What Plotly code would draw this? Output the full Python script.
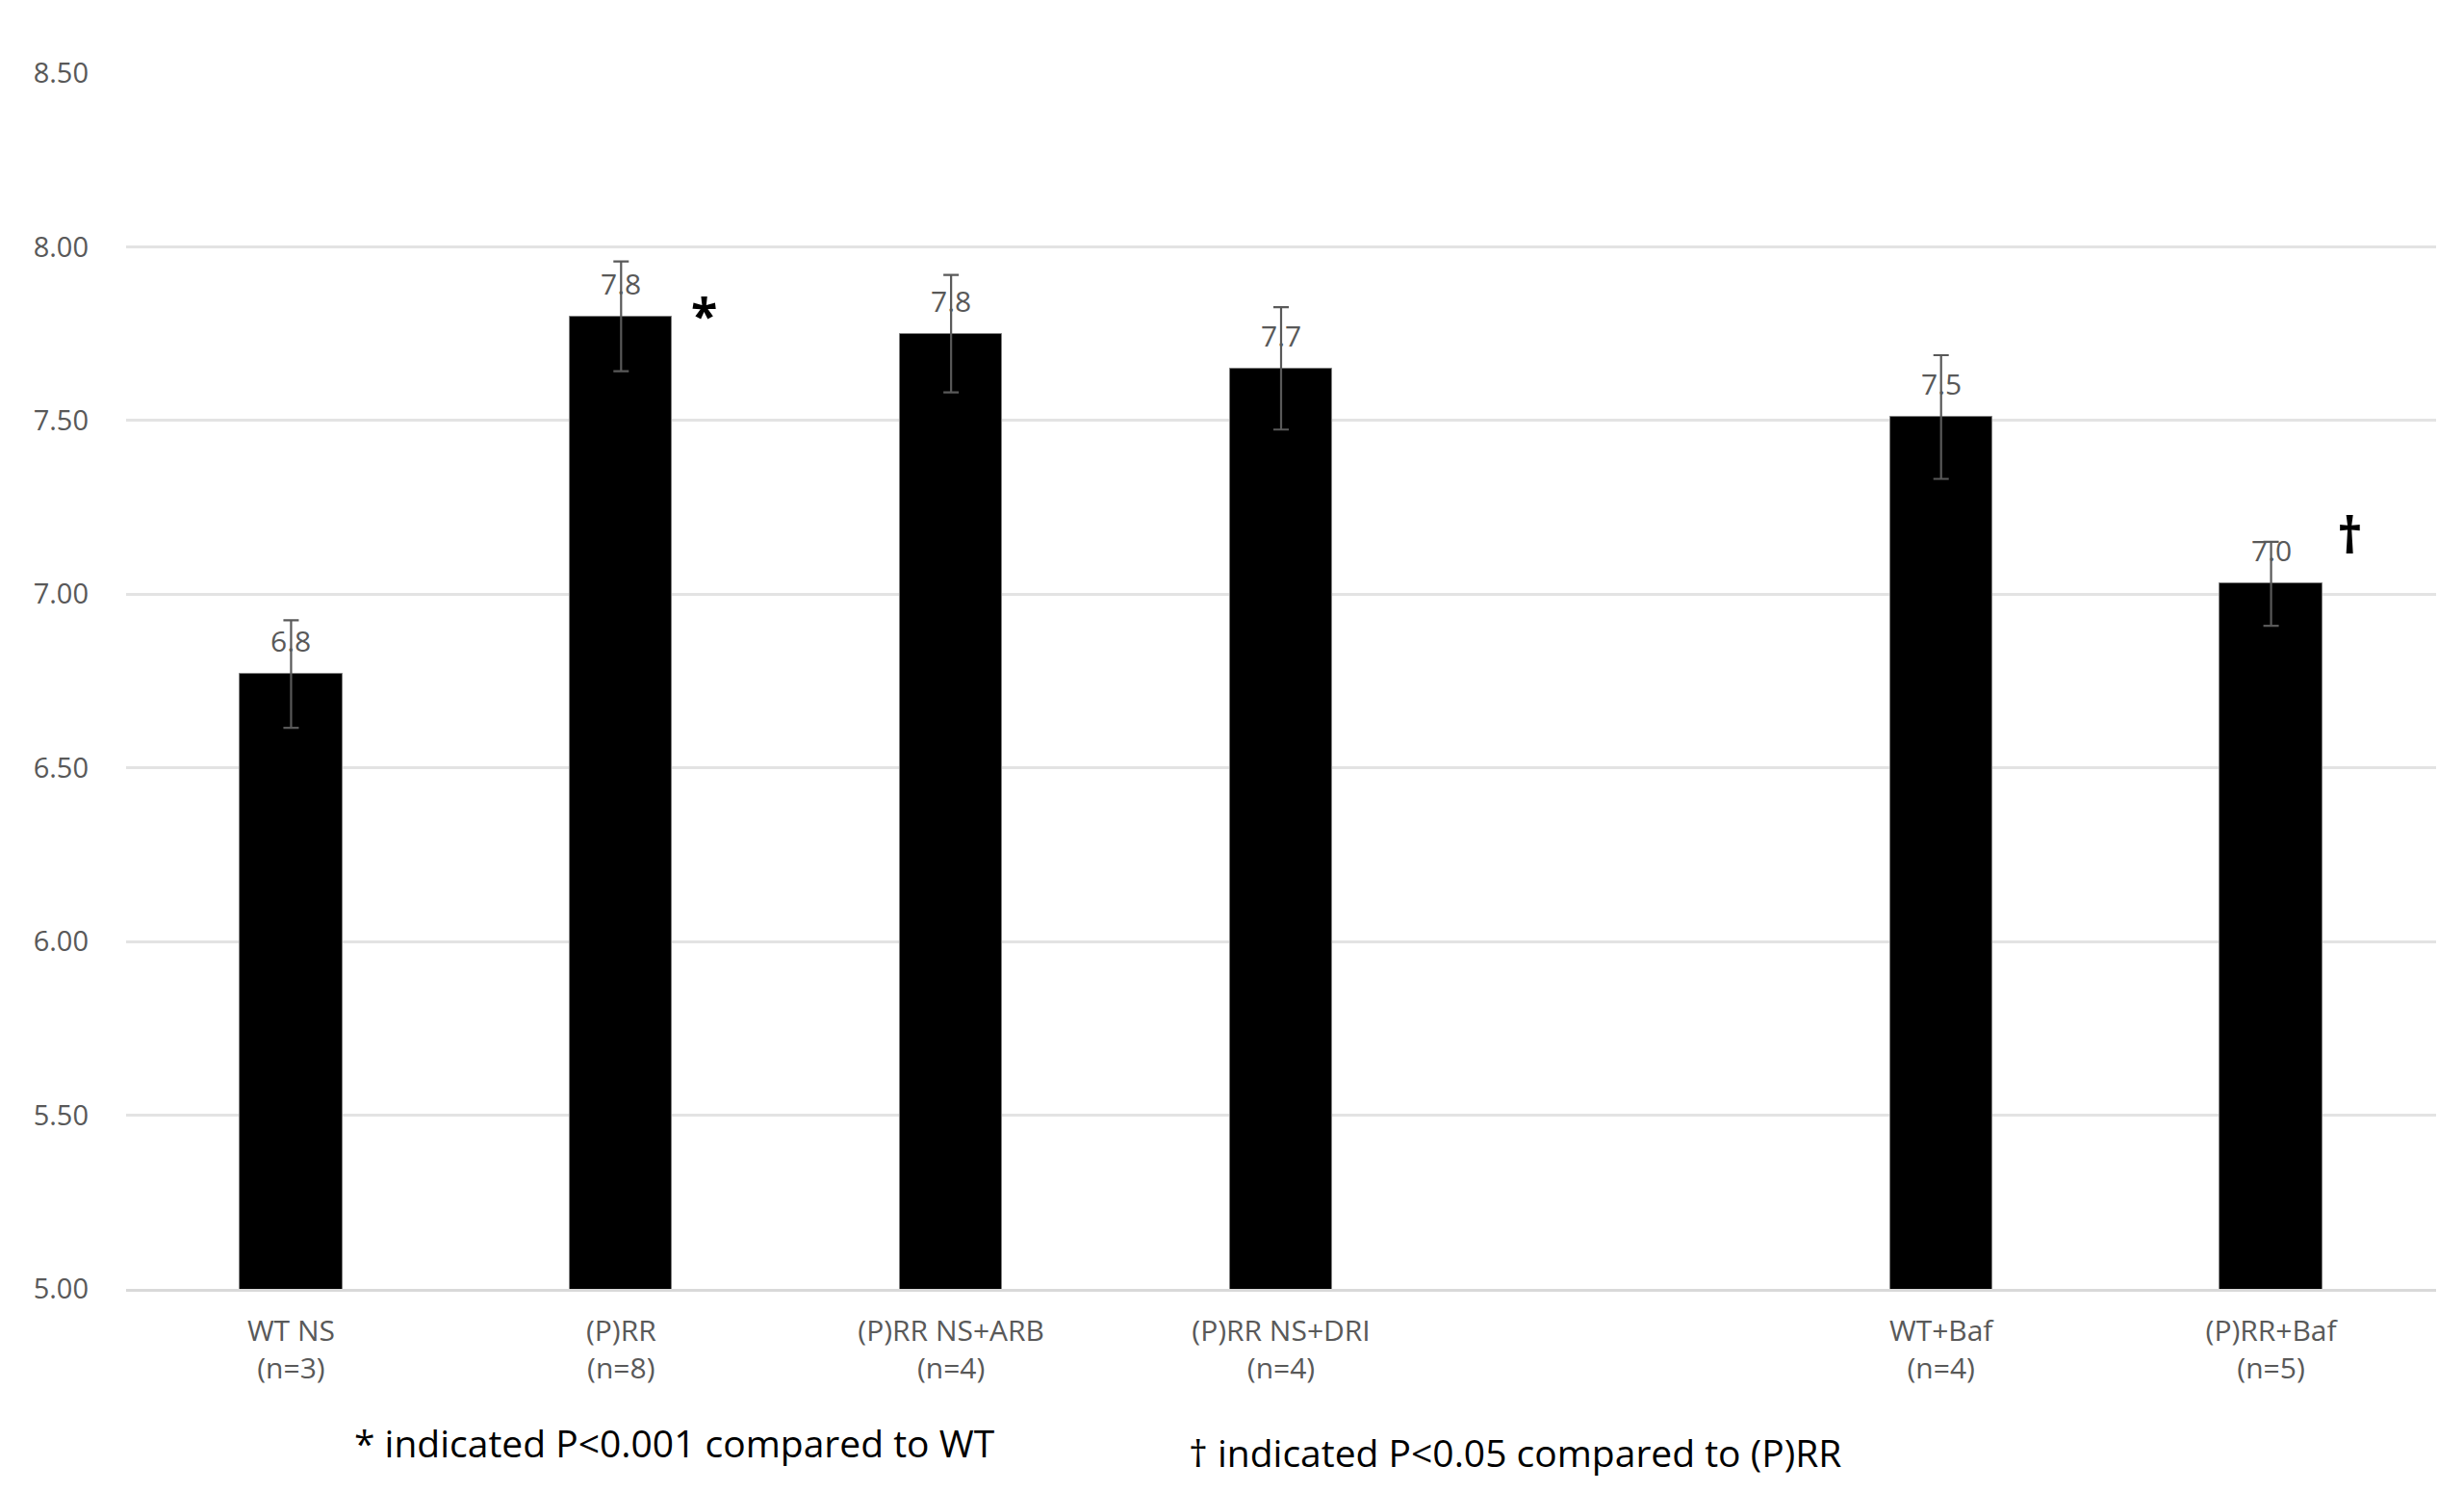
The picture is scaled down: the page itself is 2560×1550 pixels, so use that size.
import plotly.graph_objects as go

# ---- data ----
categories = ["WT NS<br>(n=3)", "(P)RR<br>(n=8)", "(P)RR NS+ARB<br>(n=4)",
              "(P)RR NS+DRI<br>(n=4)", "WT+Baf<br>(n=4)", "(P)RR+Baf<br>(n=5)"]
x_slots = [0, 1, 2, 3, 5, 6]          # slot 4 is an empty gap in the original
means = [6.77, 7.80, 7.75, 7.65, 7.51, 7.03]
errors = [0.155, 0.158, 0.169, 0.176, 0.178, 0.121]
y_ticks = [5.0, 5.5, 6.0, 6.5, 7.0, 7.5, 8.0, 8.5]

sig_marks = [("*", 1, 7.80), ("†", 6, 7.18)]
footnotes = ["* indicated P<0.001 compared to WT", "† indicated P<0.05 compared to (P)RR"]

FONT = "Open Sans"
GRAY = "#595959"

fig = go.Figure()
fig.add_trace(go.Bar(
    x=x_slots, y=means, width=0.31,
    marker=dict(color="black", line=dict(color="#808080", width=1)),
    error_y=dict(type="data", array=errors, visible=True,
                 color=GRAY, thickness=2.2, width=8),
    showlegend=False, hoverinfo="skip",
))

annotations = []
for xv, v in zip(x_slots, means):
    annotations.append(dict(x=xv, y=v, xref="x", yref="y", text=f"{v:.1f}",
                            showarrow=False, yanchor="bottom", yshift=12,
                            font=dict(family=FONT, size=30, color=GRAY)))

annotations.append(dict(x=sig_marks[0][1] + 0.25, y=sig_marks[0][2], xref="x", yref="y",
                        text="<b>*</b>", showarrow=False, yanchor="middle", yshift=2,
                        font=dict(family=FONT, size=50, color="black")))
annotations.append(dict(x=sig_marks[1][1] + 0.24, y=sig_marks[1][2], xref="x", yref="y",
                        text="<b>†</b>", showarrow=False, yanchor="middle", yshift=-2,
                        font=dict(family=FONT, size=52, color="black")))

annotations.append(dict(x=0.098, y=-0.1266, xref="paper", yref="paper", text=footnotes[0],
                        showarrow=False, xanchor="left", yanchor="middle",
                        font=dict(family=FONT, size=39, color="black")))
annotations.append(dict(x=0.459, y=-0.134, xref="paper", yref="paper", text=footnotes[1],
                        showarrow=False, xanchor="left", yanchor="middle",
                        font=dict(family=FONT, size=39, color="black")))

fig.update_layout(
    width=2560, height=1550,
    margin=dict(l=123, r=37, t=68, b=219),
    paper_bgcolor="white", plot_bgcolor="white",
    font=dict(family=FONT, color=GRAY),
    bargap=0,
    xaxis=dict(range=[-0.5, 6.5], tickmode="array", tickvals=x_slots, ticktext=categories,
               showgrid=False, zeroline=False, showline=True, linecolor="#d9d9d9", linewidth=3,
               ticks="", tickfont=dict(family=FONT, size=30, color=GRAY),
               ticklabelstandoff=15),
    yaxis=dict(range=[5, 8.5], tickmode="array", tickvals=y_ticks,
               ticktext=[f"{t:.2f}" for t in y_ticks],
               showgrid=True, gridcolor="#e3e3e3", gridwidth=2.5,
               zeroline=False, showline=False, ticks="",
               tickfont=dict(family=FONT, size=29, color=GRAY),
               ticklabelstandoff=38),
    annotations=annotations,
)

fig.write_html("out.html")
